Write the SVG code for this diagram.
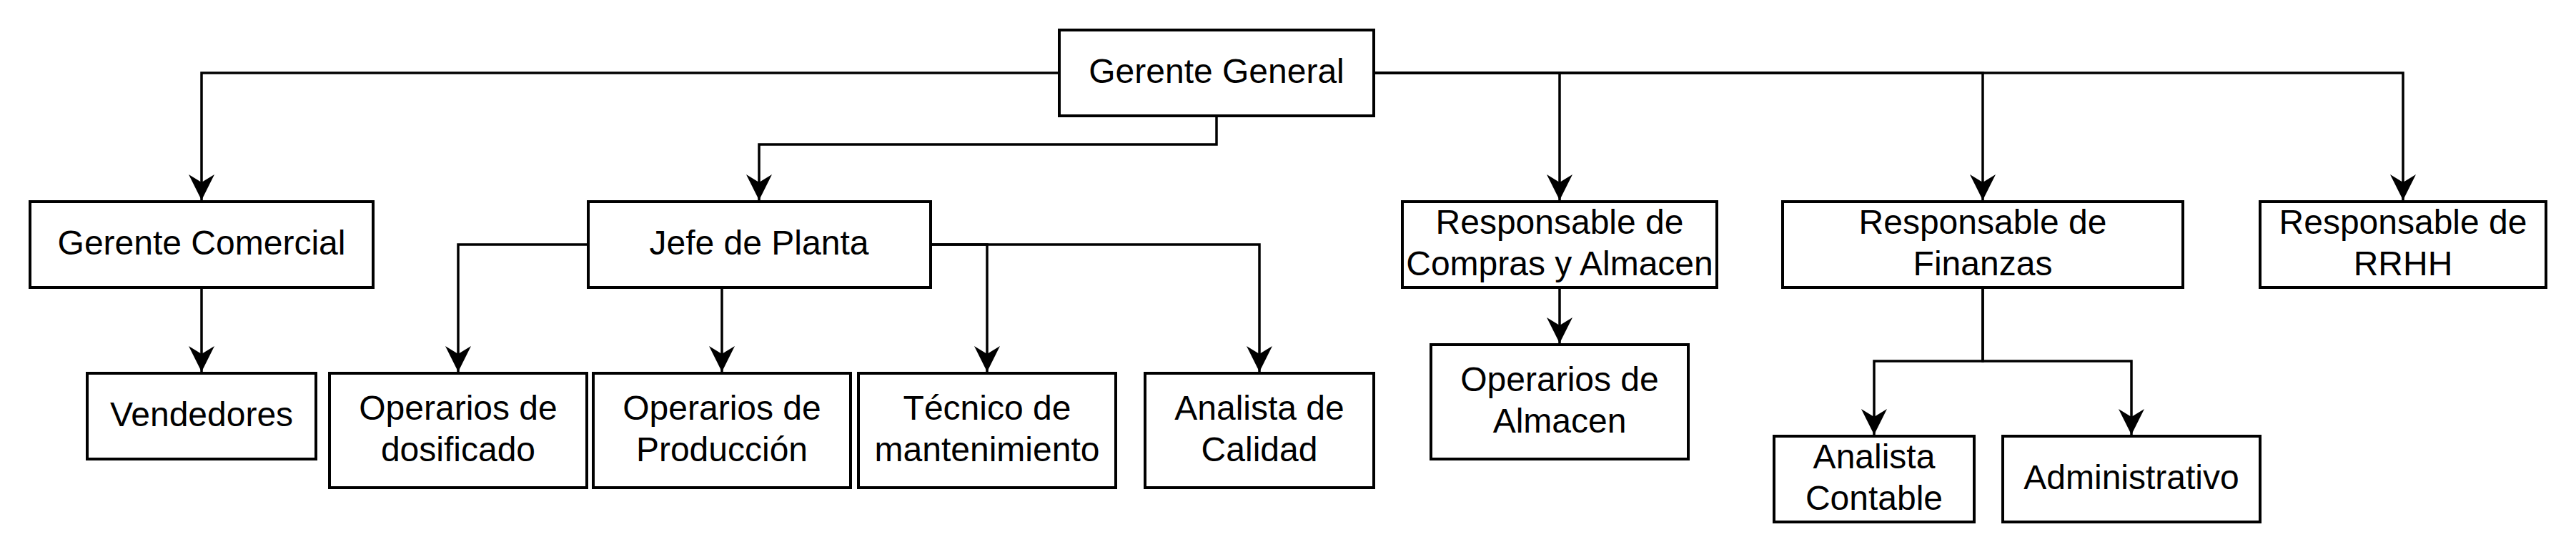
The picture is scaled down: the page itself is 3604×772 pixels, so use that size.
<svg xmlns="http://www.w3.org/2000/svg" width="3604" height="772" viewBox="0 0 3604 772">
<style>
.box{fill:#ffffff;stroke:#000000;stroke-width:4}
.t{font-family:"Liberation Sans",Arial,sans-serif;font-size:48px;fill:#000000;text-anchor:middle}
.c{fill:none;stroke:#000000;stroke-width:3.5;marker-end:url(#arr)}
</style>
<defs>
<marker id="arr" markerUnits="userSpaceOnUse" viewBox="0 0 36 36" refX="36" refY="18" markerWidth="36" markerHeight="36" orient="auto">
<path d="M36,18 L0,0 L11,18 L0,36 Z" fill="#000000"/>
</marker>
</defs>
<rect x="0" y="0" width="3604" height="772" fill="#ffffff"/>
<g id="connectors">
<path class="c" d="M1482,102 H282 V280"/>
<path class="c" d="M1702,162 V202 H1062 V280"/>
<path class="c" d="M1922,102 H2182 V280"/>
<path class="c" d="M1922,102 H2774 V280"/>
<path class="c" d="M1922,102 H3362 V280"/>
<path class="c" d="M282,402 V520"/>
<path class="c" d="M823,342 H641 V520"/>
<path class="c" d="M1010,402 V520"/>
<path class="c" d="M1302,342 H1381 V520"/>
<path class="c" d="M1302,342 H1762 V520"/>
<path class="c" d="M2182,402 V480"/>
<path class="c" d="M2774,402 V505 H2622 V608"/>
<path class="c" d="M2774,402 V505 H2982 V608"/>
</g>
<g id="gerente-general"><rect class="box" x="1482" y="42" width="440" height="120"/><text class="t" x="1702" y="116">Gerente General</text></g>
<g id="gerente-comercial"><rect class="box" x="42" y="282" width="480" height="120"/><text class="t" x="282" y="356">Gerente Comercial</text></g>
<g id="jefe-planta"><rect class="box" x="823" y="282" width="479" height="120"/><text class="t" x="1062" y="356">Jefe de Planta</text></g>
<g id="resp-compras"><rect class="box" x="1962" y="282" width="440" height="120"/><text class="t" x="2182" y="327">Responsable de</text><text class="t" x="2182" y="385">Compras y Almacen</text></g>
<g id="resp-finanzas"><rect class="box" x="2494" y="282" width="560" height="120"/><text class="t" x="2774" y="327">Responsable de</text><text class="t" x="2774" y="385">Finanzas</text></g>
<g id="resp-rrhh"><rect class="box" x="3162" y="282" width="400" height="120"/><text class="t" x="3362" y="327">Responsable de</text><text class="t" x="3362" y="385">RRHH</text></g>
<g id="vendedores"><rect class="box" x="122" y="522" width="320" height="120"/><text class="t" x="282" y="596">Vendedores</text></g>
<g id="op-dosificado"><rect class="box" x="461" y="522" width="360" height="160"/><text class="t" x="641" y="587">Operarios de</text><text class="t" x="641" y="645">dosificado</text></g>
<g id="op-produccion"><rect class="box" x="830" y="522" width="360" height="160"/><text class="t" x="1010" y="587">Operarios de</text><text class="t" x="1010" y="645">Producción</text></g>
<g id="tecnico"><rect class="box" x="1201" y="522" width="360" height="160"/><text class="t" x="1381" y="587">Técnico de</text><text class="t" x="1381" y="645">mantenimiento</text></g>
<g id="analista-calidad"><rect class="box" x="1602" y="522" width="320" height="160"/><text class="t" x="1762" y="587">Analista de</text><text class="t" x="1762" y="645">Calidad</text></g>
<g id="op-almacen"><rect class="box" x="2002" y="482" width="360" height="160"/><text class="t" x="2182" y="547">Operarios de</text><text class="t" x="2182" y="605">Almacen</text></g>
<g id="analista-contable"><rect class="box" x="2482" y="610" width="280" height="120"/><text class="t" x="2622" y="655">Analista</text><text class="t" x="2622" y="713">Contable</text></g>
<g id="administrativo"><rect class="box" x="2802" y="610" width="360" height="120"/><text class="t" x="2982" y="684">Administrativo</text></g>
</svg>
